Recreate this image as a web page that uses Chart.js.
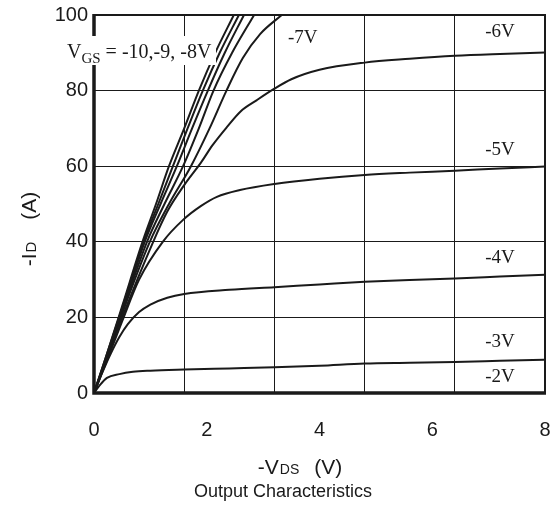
<!DOCTYPE html>
<html>
<head>
<meta charset="utf-8">
<script src="https://cdn.jsdelivr.net/npm/chart.js@4"></script>
<style>
  html, body { margin: 0; padding: 0; background: #fff; }
  canvas { display: block; }
</style>
</head>
<body>
<canvas id="chart" width="554" height="512"></canvas>
<script>
// -VDS (V), -ID (A) pairs
const vgs10 = [[0,0],[0.2,9],[0.5,23],[0.86,40],[1.1,50],[1.33,60],[1.6,70],[1.86,80],[2.15,90],[2.48,100]];
const vgs9  = [[0,0],[0.2,9],[0.5,22.5],[0.88,40],[1.14,50],[1.4,60],[1.66,70],[1.93,80],[2.23,90],[2.57,100]];
const vgs8  = [[0,0],[0.2,8.5],[0.5,22],[0.9,40],[1.18,50],[1.47,60],[1.74,70],[2.02,80],[2.32,90],[2.66,100]];
const vgs8b = [[0,0],[0.2,8.5],[0.5,21.5],[0.94,40],[1.25,50],[1.58,60],[1.86,70],[2.12,80],[2.45,90],[2.84,100]];
const vgs7  = [[0,0],[0.2,8],[0.5,21],[0.99,40],[1.33,50],[1.72,60],[2.05,70],[2.35,80],[2.64,88.6],[2.95,95],[3.33,100]];
const vgs6  = [[0,0],[0.2,8],[0.5,20],[1.05,40],[1.3,48],[1.6,55],[1.9,61],[2.1,65.5],[2.36,70.4],[2.6,74.5],[2.89,77.5],[3.2,80.5],[3.5,83],[4,85.5],[4.8,87.4],[5.6,88.4],[6.4,89.2],[7.2,89.7],[8,90.1]];
const vgs5  = [[0,0],[0.2,7.5],[0.5,19],[0.8,30],[1.22,40],[1.58,45.8],[1.9,49.5],[2.18,51.9],[2.59,53.7],[3.2,55.3],[4,56.7],[4.8,57.7],[5.6,58.3],[6.4,58.8],[7.2,59.4],[8,59.9]];
const vgs4  = [[0,0],[0.15,5.5],[0.3,10.5],[0.45,14.8],[0.6,18.2],[0.8,21.4],[1.0,23.4],[1.3,25.2],[1.6,26.2],[2.4,27.3],[3.2,28],[4,28.7],[4.8,29.4],[5.6,29.9],[6.4,30.3],[7.2,30.8],[8,31.3]];
const vgs3  = [[0,0],[0.1,2],[0.23,4],[0.45,5],[0.69,5.6],[1,5.9],[1.6,6.2],[2.4,6.5],[3.2,6.8],[4,7.2],[4.8,7.8],[5.6,8],[6.4,8.2],[7.2,8.5],[8,8.8]];

const curves = [vgs10, vgs9, vgs8, vgs8b, vgs7, vgs6, vgs5, vgs4, vgs3];

const xTicks = [0, 1.6, 2, 3.2, 4, 4.8, 6, 6.4, 8];
const xLabels = [0, 2, 4, 6, 8];
const xGrid = [1.6, 3.2, 4.8, 6.4];
const yTicks = [0, 20, 40, 60, 80, 100];

// curve labels: [text, x, y] in data units (left edge, baseline)
const curveLabels = [
  ['-7V', 3.44, 92.6],
  ['-6V', 6.94, 94.2],
  ['-5V', 6.94, 63],
  ['-4V', 6.94, 34.4],
  ['-3V', 6.94, 12.2],
  ['-2V', 6.94, 2.9]
];

const INK = '#1a1a1a';
const SANS = '"Liberation Sans", Arial, sans-serif';
const SERIF = '"Liberation Serif", "Times New Roman", serif';

function near(a, b) { return Math.abs(a - b) < 1e-6; }

// draws text pieces with different fonts / gaps, centred on x
function richText(ctx, parts, x, y) {
  let w = 0;
  parts.forEach(p => { ctx.font = p.font; w += ctx.measureText(p.t).width + (p.gap || 0); });
  let cx = x - w / 2;
  parts.forEach(p => {
    cx += p.gap || 0;
    ctx.font = p.font;
    ctx.fillText(p.t, cx, y);
    cx += ctx.measureText(p.t).width;
  });
}

const decor = {
  id: 'decor',
  afterDatasetsDraw(chart) {
    const ctx = chart.ctx;
    const a = chart.chartArea;
    const xs = chart.scales.x, ys = chart.scales.y;
    ctx.save();

    // frame
    ctx.strokeStyle = INK;
    ctx.lineWidth = 2;
    ctx.strokeRect(a.left, a.top, a.right - a.left, a.bottom - a.top);
    ctx.lineWidth = 3.5;
    ctx.beginPath();
    ctx.moveTo(a.left, a.top - 1);
    ctx.lineTo(a.left, a.bottom);
    ctx.lineTo(a.right + 1, a.bottom);
    ctx.stroke();

    // V_GS box
    ctx.fillStyle = '#fff';
    ctx.fillRect(a.left - 32, a.top + 21, 154, 29);
    ctx.fillStyle = INK;
    ctx.textAlign = 'left';
    ctx.textBaseline = 'alphabetic';
    let bx = a.left - 27, by = a.top + 43;
    ctx.font = '20px ' + SERIF;
    ctx.fillText('V', bx, by);
    bx += ctx.measureText('V').width;
    ctx.font = '15px ' + SERIF;
    ctx.fillText('GS', bx, by + 5);
    bx += ctx.measureText('GS').width;
    ctx.font = '20px ' + SERIF;
    ctx.fillText(' = -10,-9, -8V', bx, by);

    // curve labels
    ctx.font = '19px ' + SERIF;
    curveLabels.forEach(l => {
      ctx.fillText(l[0], xs.getPixelForValue(l[1]), ys.getPixelForValue(l[2]));
    });

    // axis titles
    richText(ctx, [
      {t: '-V', font: '21px ' + SANS},
      {t: 'DS', font: '14px ' + SANS, gap: 1},
      {t: '(V)', font: '21px ' + SANS, gap: 15}
    ], 300, 474);
    ctx.textAlign = 'center';
    ctx.font = '18px ' + SANS;
    ctx.fillText('Output Characteristics', 283, 497);

    ctx.translate(36, 229);
    ctx.rotate(-Math.PI / 2);
    ctx.textAlign = 'left';
    richText(ctx, [
      {t: '-I', font: '21px ' + SANS},
      {t: 'D', font: '15px ' + SANS, gap: 1},
      {t: '(A)', font: '21px ' + SANS, gap: 22}
    ], 0, 0);
    ctx.restore();
  }
};

new Chart(document.getElementById('chart'), {
  type: 'scatter',
  data: {
    datasets: curves.map(c => ({
      data: c.map(p => ({x: p[0], y: p[1]})),
      showLine: true,
      borderColor: INK,
      borderWidth: 2,
      pointRadius: 0,
      cubicInterpolationMode: 'monotone',
      fill: false
    }))
  },
  options: {
    responsive: false,
    animation: false,
    layout: { padding: { top: 15, right: 9, left: 0, bottom: 0 } },
    plugins: { legend: { display: false }, tooltip: { enabled: false } },
    scales: {
      x: {
        type: 'linear',
        min: 0, max: 8,
        afterBuildTicks: s => { s.ticks = xTicks.map(v => ({value: v})); },
        afterFit: s => { s.height = 119; s.paddingLeft = 0; s.paddingRight = 0; },
        border: { display: false },
        grid: {
          drawTicks: false,
          color: c => xGrid.some(v => near(v, c.tick.value)) ? INK : 'rgba(0,0,0,0)',
          lineWidth: 1
        },
        ticks: {
          autoSkip: false,
          maxRotation: 0,
          padding: 25,
          color: INK,
          font: { family: SANS, size: 20 },
          callback: v => xLabels.some(l => near(l, v)) ? String(v) : ''
        }
      },
      y: {
        min: 0, max: 100,
        afterBuildTicks: s => { s.ticks = yTicks.map(v => ({value: v})); },
        afterFit: s => { s.width = 94; s.paddingTop = 0; s.paddingBottom = 0; },
        border: { display: false },
        grid: {
          drawTicks: false,
          color: c => (c.tick.value > 0 && c.tick.value < 100) ? INK : 'rgba(0,0,0,0)',
          lineWidth: 1
        },
        ticks: {
          padding: 6,
          color: INK,
          font: { family: SANS, size: 20 }
        }
      }
    }
  },
  plugins: [decor]
});
</script>
</body>
</html>
